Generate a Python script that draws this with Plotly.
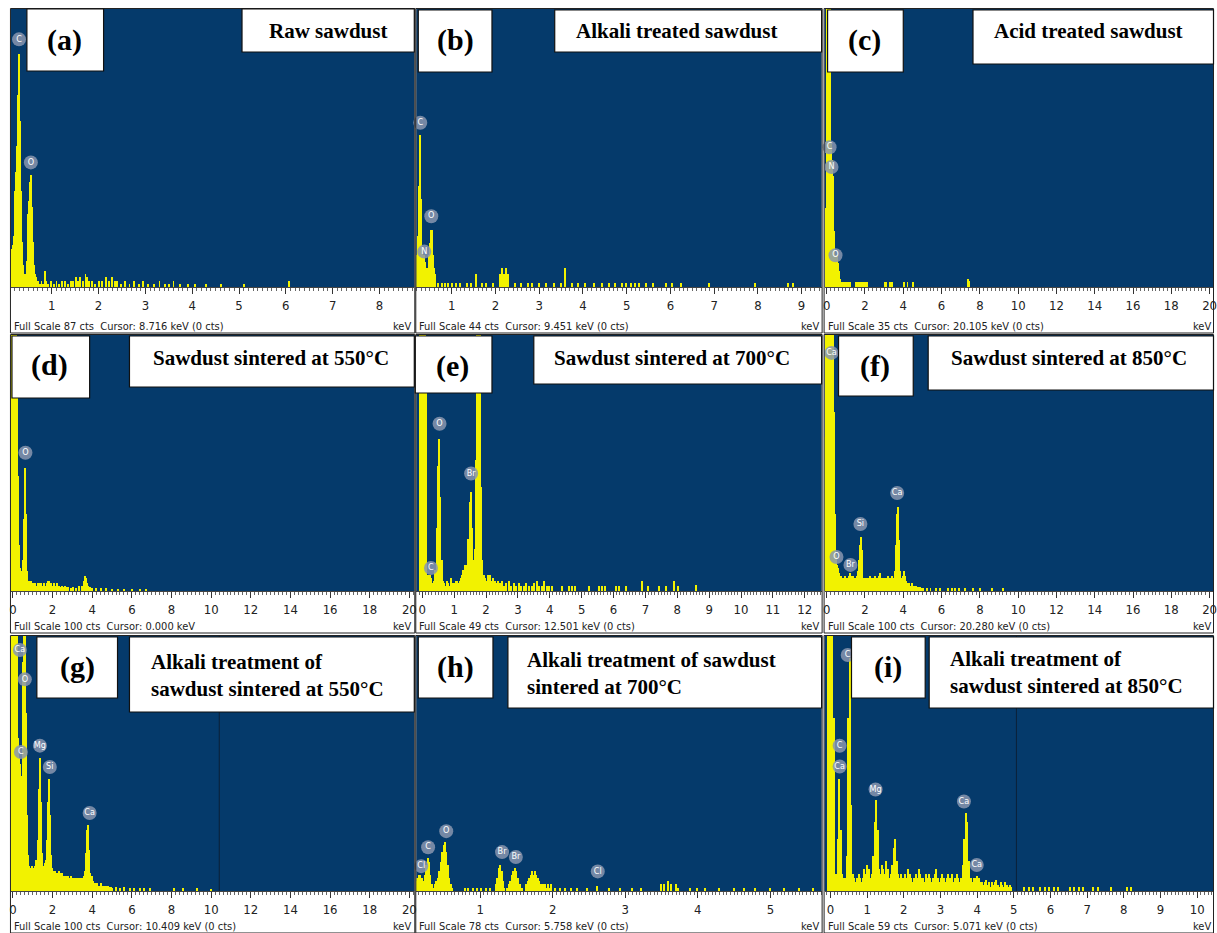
import plotly.graph_objects as go

# ---------------- data ----------------
# Each spectrum: contiguous segments (start keV, counts per bin) + sparse bins
BIN_A = 0.02
SEG_A = [(0.14, [12, 13, 11, 16, 30, 36, 44, 60, 73, 52, 30, 14, 7, 4, 3, 4, 8, 16, 23, 27,
                 33, 35, 25, 14, 7, 4, 3, 2, 2])]
NE_A = [0.74, 0.78, 0.82, 0.86, 0.88, 0.92, 0.98, 1.04, 1.10, 1.16, 1.22, 1.28, 1.34, 1.40, 1.46,
        1.52, 1.56, 1.60, 1.66, 1.72, 1.76, 1.80, 1.86, 1.92, 2.00, 2.08, 2.16, 2.22, 2.28, 2.34,
        2.40, 2.48, 2.56, 2.66, 2.76, 2.86, 2.94, 3.06, 3.18, 3.30, 3.42, 3.50, 3.60, 3.74, 3.90,
        4.06, 4.30, 4.62, 5.10, 6.06]
NC_A = [1, 2, 1, 5, 2, 1, 2, 1, 2, 1, 2, 2, 1, 2, 2, 3, 2, 3, 2, 4, 3, 2, 2, 1,
        2, 2, 3, 2, 3, 2, 2, 1, 2, 1, 2, 1, 2, 1, 1, 2, 1, 1, 2, 1, 1, 1, 1, 1, 1, 2]
LAB_A = (["C", "O"], [0.30, 0.553], [77.5, 39.0])

BIN_B = 0.025
SEG_B = [(0.200, [5, 8, 16, 24, 14, 6, 4, 5, 4, 2, 3, 5, 7, 9, 9, 5, 3, 2])]
NE_B = [0.70, 0.78, 0.85, 0.92, 1.00, 1.10, 1.20, 1.35, 1.45, 1.57, 1.70, 1.80, 1.95, 2.10, 2.15,
        2.20, 2.25, 2.30, 2.45, 2.60, 2.75, 2.85, 3.00, 3.15, 3.35, 3.50, 3.60, 3.75, 3.90, 4.05,
        4.25, 4.45, 4.60, 4.75, 4.90, 5.00, 5.10, 5.20, 5.30, 5.45, 5.60, 5.90, 6.05, 6.25, 6.90,
        7.95, 8.70, 8.80]
NC_B = [0.7, 0.7, 0.7, 0.7, 0.7, 0.7, 0.7, 0.7, 0.7, 2, 0.7, 0.7, 0.7, 2, 3,
        2, 3, 2, 0.7, 0.7, 0.7, 0.7, 0.7, 0.7, 0.7, 0.7, 3, 0.7, 0.7, 0.7,
        0.7, 0.7, 0.7, 0.7, 0.7, 0.7, 0.7, 0.7, 0.7, 0.7, 0.7, 0.7, 0.7, 0.7, 0.7,
        0.7, 0.7, 0.7]
LAB_B = (["C", "N", "O"], [0.278, 0.37, 0.53], [26.0, 5.6, 11.2])

BIN_C = 0.05
SEG_C = [(-0.05, [10, 40, 45, 45, 45, 18, 16, 14, 7, 4, 3, 4, 3, 2, 1])]
NE_C = [0.80, 0.90, 1.00, 1.10, 1.20, 1.50, 1.60, 1.70, 1.80, 1.90, 2.00, 2.10, 3.00, 3.10, 3.30,
        3.40, 4.00, 4.20, 4.50, 7.35, 7.40]
NC_C = [0.6, 0.6, 0.6, 0.6, 0.6, 0.6, 0.6, 0.6, 0.6, 0.6, 0.6, 0.6, 0.6, 0.6, 0.6,
        0.6, 0.6, 0.6, 0.6, 1.0, 0.8]
LAB_C = (["C", "N", "O"], [0.15, 0.25, 0.46], [17.6, 15.1, 4.0])

BIN_D = 0.05
SEG_D = [(-0.10, [60, 120, 120, 120, 120, 120, 90, 45, 18, 9, 6, 8, 12, 28, 48, 30, 8, 4]),
         (0.80, [4, 3, 4, 3, 3, 2, 3, 2, 2, 3, 3, 2, 3, 2, 2, 3, 2, 2, 3, 4,
                 4, 3, 3, 2, 2, 3, 2, 2, 3, 2, 2, 1, 1.5, 2, 1.5, 1, 2])]
NE_D = [2.70, 2.80, 2.95, 3.05, 3.20, 3.35, 3.50, 3.60, 3.65, 3.70, 3.75, 3.80, 3.90, 4.00, 4.20,
        4.45, 4.70, 5.00, 5.30, 5.60, 6.00, 6.40, 6.70]
NC_D = [1.5, 1.5, 1, 1.5, 1, 2, 2, 4, 6, 5, 3, 2, 1.5, 1, 1, 1, 1, 0.7, 0.7, 0.7, 0.7, 0.7, 0.7]
LAB_D = (["O"], [0.63], [54.0])

BIN_E = 0.04
SEG_E = [(-0.06, [60, 60, 60, 60, 60, 40, 3, 2, 3, 2.5, 1.5, 2, 4, 12, 24, 29, 18, 6, 2, 1.5]),
         (0.74, [1, 2, 1.5, 1, 2.5, 1.5, 1, 1.5, 2, 2, 1.5, 2, 2.5, 3, 4, 5, 4, 5, 10, 17,
                 19, 12, 6, 8, 25, 55, 60, 55, 20, 6, 3, 2.5, 2, 3, 2.5, 3, 2, 2.5, 1.5, 2, 1.5])]
NE_E = [2.40, 2.46, 2.52, 2.58, 2.64, 2.72, 2.80, 2.88, 2.96, 3.04, 3.12, 3.20, 3.28, 3.36, 3.44,
        3.52, 3.60, 3.68, 3.76, 3.84, 3.92, 4.00, 4.08, 4.40, 4.60, 4.70, 4.80, 5.25, 5.55, 5.65,
        5.75, 6.10, 6.20, 6.40, 6.90, 7.10, 7.45, 7.65, 7.90, 8.05, 8.60]
NC_E = [2, 1.5, 2, 1, 1.5, 2, 1, 1.5, 1, 1.5, 1, 1, 1.5, 1, 1, 1.5, 2, 1, 1, 2,
        1, 1, 1, 1, 1, 1, 1, 1, 1, 1, 1, 1, 1, 1, 2, 1, 1, 1, 2, 1, 1.2]
LAB_E = (["C", "O", "Br"], [0.27, 0.54, 1.53], [4.4, 32.0, 22.5])

BIN_F = 0.05
SEG_F = [(-0.10, [60, 120, 120, 120, 120, 120, 115, 110, 108, 70, 30, 14, 10, 9, 7,
                  6, 5, 6, 5, 4, 5, 6, 5, 4, 5, 6, 7, 6, 5, 6, 5, 4, 5, 6, 8, 12, 18, 21, 16, 8, 5, 4,
                  5, 4, 5, 4, 5, 6, 4, 5, 4, 5, 6, 5, 4, 5, 6, 7, 4, 5, 4, 5, 5, 4, 5, 4, 6, 5, 4, 5, 6, 5, 4,
                  8, 18, 30, 33, 20, 8, 5,
                  4, 6, 8, 6, 4,
                  3, 3, 2, 3, 2, 2, 3, 2, 2, 1.5, 2, 1.5, 1.5, 1, 1.5, 1, 1, 1])]
NE_F = [5.20, 5.40, 5.70, 5.90, 6.30, 6.50, 6.70, 6.90, 7.20, 7.60, 8.00, 8.60, 9.20]
NC_F = [1, 1, 1, 1, 1, 1, 1, 1, 1, 1, 1, 1, 1]
LAB_F = (["Ca", "O", "Br", "Si", "Ca"], [0.25, 0.51, 1.24, 1.76, 3.68], [93.0, 13.3, 10.2, 26.2, 38.3])

BIN_G = 0.05
SEG_G = [(-0.10, [40, 120, 120, 120, 120, 120, 100, 60, 52, 50, 40, 45, 90, 120, 120, 70, 30, 14, 10,
                  9, 8, 10, 9, 8, 10, 12, 10,
                  20, 40, 52, 35, 15,
                  10, 9, 11, 12,
                  20, 35, 44, 30, 14, 9,
                  8, 7, 8, 7, 7, 6, 8, 7, 6, 7, 6, 6, 5, 6, 5, 6, 6, 5, 5, 6, 5, 4, 5, 5, 4, 5, 4, 5,
                  5, 4, 5, 5, 6,
                  8, 15, 24, 26, 16, 7, 5, 6, 4,
                  3, 3, 2, 3, 2, 2, 2, 3, 2, 2, 1.5, 2, 2, 1.5, 2, 1.5, 1, 1.5, 1])]
NE_G = [5.20, 5.40, 5.60, 5.90, 6.10, 6.40, 6.60, 6.90, 8.10, 8.60, 9.30, 10.00]
NC_G = [1.5, 1, 1.5, 1, 1, 1, 1, 1, 1, 1, 1, 0.7]
LAB_G = (["Ca", "O", "C", "Mg", "Si", "Ca"], [0.35, 0.60, 0.40, 1.36, 1.86, 3.87],
         [94.5, 83.0, 54.5, 57.0, 48.6, 30.6])

BIN_H = 0.02
SEG_H = [(0.12, [3, 4, 5, 5, 4, 3, 5, 8, 10, 9, 5, 2, 1, 2, 3, 4, 6, 9, 12, 14, 15, 12, 8, 4, 2, 1]),
         (1.22, [2, 4, 7, 8, 6, 3, 1]),
         (1.38, [1, 2, 3, 5, 6, 7, 6, 4, 2, 2, 1]),
         (1.64, [2, 3, 4, 5, 6, 5, 6, 5, 4, 3, 2, 2, 2, 2, 1, 2, 1, 2])]
NE_H = [0.80, 0.84, 0.90, 0.96, 1.02, 1.08, 1.14, 2.04, 2.10, 2.18, 2.26, 2.34, 2.48, 2.62, 2.78,
        2.94, 3.10, 3.22, 3.50, 3.54, 3.60, 3.64, 3.70, 3.74, 3.90, 4.00, 4.10, 4.30, 4.50, 4.65,
        4.80, 5.00, 5.20, 5.40, 5.60]
NC_H = [1, 1, 1, 1, 1, 1, 1, 1, 1, 1, 1, 1, 1, 1.5, 1, 1, 1, 1, 2, 2, 3, 2, 2, 1, 1,
        1, 1, 1, 1, 1, 1, 1, 1, 1, 1]
LAB_H = (["Cl", "C", "O", "Br", "Br", "Cl"], [0.185, 0.28, 0.53, 1.30, 1.49, 2.62],
         [7.6, 13.4, 18.3, 11.9, 10.4, 6.0])

BIN_I = 0.04
SEG_I = [(-0.08, [70, 70, 70, 70, 40, 4, 4, 12, 26, 14, 4, 3, 3, 8, 40, 54, 20, 4]),
         (0.64, [3, 2, 3, 4, 3, 2, 3, 5, 4, 6, 5, 3, 4]),
         (1.16, [8, 16, 21, 14, 5]),
         (1.36, [4, 6, 5, 4, 7, 5, 3, 4]),
         (1.68, [6, 10, 12, 7, 4]),
         (1.88, [3, 4, 3, 2, 4, 3, 5, 4, 3, 2, 3, 4, 3, 5, 4, 3, 3, 2, 4, 3,
                 4, 3, 2, 3, 4, 5, 3, 2, 3, 4, 3, 2, 3, 4, 3, 3, 4, 2, 3, 4, 3, 2, 3]),
         (3.60, [6, 12, 18, 16, 7, 3, 3, 2, 3, 3, 3.5, 3]),
         (4.08, [2, 2, 1.5, 2, 2.5, 1.5, 2, 1, 2, 1.5, 2, 2.5, 1.5, 1, 2, 1.5, 1, 2, 1.5, 1, 1.5, 1])]
NE_I = [5.28, 5.40, 5.52, 5.72, 5.84, 5.96, 6.08, 6.20, 6.52, 6.64, 6.76, 6.88, 7.16, 7.30, 7.64,
        8.08, 8.20]
NC_I = [1] * 17
LAB_I = (["C", "C", "Ca", "Mg", "Ca", "Ca"], [0.47, 0.25, 0.25, 1.23, 3.64, 3.99],
         [54.6, 33.6, 28.8, 23.5, 20.7, 6.0])

TAGS = ["(a)", "(b)", "(c)", "(d)", "(e)", "(f)", "(g)", "(h)", "(i)"]
TITLES = ["Raw sawdust", "Alkali treated sawdust", "Acid treated sawdust",
          "Sawdust sintered at 550°C", "Sawdust sintered at 700°C", "Sawdust sintered at 850°C",
          "Alkali treatment of<br>sawdust sintered at 550°C",
          "Alkali treatment of sawdust<br>sintered at 700°C",
          "Alkali treatment of<br>sawdust sintered at 850°C"]
FULL_SCALE = [87, 44, 35, 100, 49, 100, 100, 78, 59]
FOOTERS = ["Full Scale 87 cts  Cursor: 8.716 keV (0 cts)",
           "Full Scale 44 cts  Cursor: 9.451 keV (0 cts)",
           "Full Scale 35 cts  Cursor: 20.105 keV (0 cts)",
           "Full Scale 100 cts  Cursor: 0.000 keV",
           "Full Scale 49 cts  Cursor: 12.501 keV (0 cts)",
           "Full Scale 100 cts  Cursor: 20.280 keV (0 cts)",
           "Full Scale 100 cts  Cursor: 10.409 keV (0 cts)",
           "Full Scale 78 cts  Cursor: 5.758 keV (0 cts)",
           "Full Scale 59 cts  Cursor: 5.071 keV (0 cts)"]
CURSOR_LINES = {7: 10.409, 9: 5.071}
XRANGES = [[0.128, 8.745], [0.187, 9.458], [-0.11, 20.23],
           [-0.10, 20.25], [-0.19, 12.53], [-0.11, 20.23],
           [-0.10, 20.25], [0.117, 5.707], [-0.16, 10.46]]
XTICKS = [list(range(1, 9)), list(range(1, 10)), list(range(0, 21, 2)),
          list(range(0, 21, 2)), list(range(0, 13)), list(range(0, 21, 2)),
          list(range(0, 21, 2)), list(range(0, 6)), list(range(0, 11))]
MINOR = [0.1, 0.1, 0.2, 0.2, 0.1, 0.2, 0.2, 0.05, 0.1]

SPECTRA = [(BIN_A, SEG_A, NE_A, NC_A, LAB_A), (BIN_B, SEG_B, NE_B, NC_B, LAB_B),
           (BIN_C, SEG_C, NE_C, NC_C, LAB_C), (BIN_D, SEG_D, NE_D, NC_D, LAB_D),
           (BIN_E, SEG_E, NE_E, NC_E, LAB_E), (BIN_F, SEG_F, NE_F, NC_F, LAB_F),
           (BIN_G, SEG_G, NE_G, NC_G, LAB_G), (BIN_H, SEG_H, NE_H, NC_H, LAB_H),
           (BIN_I, SEG_I, NE_I, NC_I, LAB_I)]

# ---------------- layout geometry (pixels) ----------------
W, H = 1217, 933
COLS = [(9, 414), (416, 823), (826, 1217)]
ROWS = [(9, 287, 333), (335, 591, 633), (636, 891, 933)]  # top, plot bottom, strip bottom
TAG_BOX = [(25, 102, 9, 71), (418, 492, 10, 72), (829, 905, 10, 72),
           (10, 88, 336, 398), (415, 492, 336, 393), (840, 915, 336, 396),
           (35, 116, 637, 698), (418, 493, 637, 698), (853, 927, 637, 698)]
TAG_POS = [(63, 40), (455, 40), (866, 40), (48, 365), (452, 366), (877, 366),
           (76, 667), (455, 667), (890, 667)]
TITLE_BOX = [(241, 414, 9, 52), (555, 823, 10, 52), (975, 1217, 10, 64),
             (128, 414, 336, 387), (534, 823, 336, 384), (930, 1217, 336, 390),
             (128, 414, 637, 712), (508, 823, 637, 708), (931, 1217, 637, 708)]
TITLE_POS = [(327, 31, "center"), (677, 31, "center"), (1091, 31, "center"),
             (270, 358, "center"), (673, 358, "center"), (1071, 358, "center"),
             (148, 675, "left"), (525, 673, "left"), (950, 672, "left")]

BLUE = "#053a6b"
YELLOW = "#f2f200"
NARROW = "Liberation Sans Narrow, Arial Narrow, DejaVu Sans Condensed, sans-serif"
SERIF = "Liberation Serif, Times New Roman, serif"


def fx(p):
    return p / W


def fy(p):
    return 1 - p / H


fig = go.Figure()
shapes, annots = [], []
layout = {}

for i in range(9):
    n = i + 1
    xa = "x" if n == 1 else f"x{n}"
    ya = "y" if n == 1 else f"y{n}"
    bw, segs, ne, nc, lab = SPECTRA[i]
    xs, ys = [], []
    for start, counts in segs:
        for k, c in enumerate(counts):
            xs.append(round(start + k * bw, 4))
            ys.append(c)
    xs += ne
    ys += nc
    fig.add_trace(go.Bar(x=xs, y=ys, width=bw, marker=dict(color=YELLOW, line=dict(width=0)),
                         xaxis=xa, yaxis=ya, showlegend=False, hoverinfo="skip"))
    names, le, lc = lab
    fig.add_trace(go.Scatter(x=le, y=lc, mode="markers+text", text=names,
                             textposition="middle center",
                             marker=dict(size=14, color="rgba(138,150,175,0.85)",
                                         line=dict(width=0)),
                             textfont=dict(color="white", size=9, family=NARROW),
                             xaxis=xa, yaxis=ya, showlegend=False, hoverinfo="skip",
                             cliponaxis=False))

    c0, c1 = COLS[i % 3]
    t, b, sb = ROWS[i // 3]
    xk = "xaxis" if n == 1 else f"xaxis{n}"
    yk = "yaxis" if n == 1 else f"yaxis{n}"
    layout[xk] = dict(domain=[fx(c0), fx(c1)], range=XRANGES[i], anchor=ya,
                      tickmode="array", tickvals=XTICKS[i], ticks="outside", ticklen=6,
                      tickwidth=1, tickcolor="#333", ticklabeloverflow="allow",
                      tickfont=dict(family=NARROW, size=13, color="#222"),
                      showgrid=False, zeroline=False, showline=True, linecolor="#444",
                      linewidth=1, fixedrange=True,
                      minor=dict(ticks="outside", ticklen=3, tickcolor="#666",
                                 tickmode="linear", tick0=0, dtick=MINOR[i], showgrid=False))
    layout[yk] = dict(domain=[fy(b), fy(t)], range=[0, FULL_SCALE[i]], anchor=xa,
                      visible=False, fixedrange=True)

    # cursor line
    if n in CURSOR_LINES:
        shapes.append(dict(type="line", xref=xa, yref=f"{ya} domain",
                           x0=CURSOR_LINES[n], x1=CURSOR_LINES[n], y0=0, y1=1,
                           line=dict(color="#0b2038", width=1), layer="below"))

    # cell frame
    shapes.append(dict(type="rect", xref="paper", yref="paper",
                       x0=fx(c0 - 0.5), x1=fx(min(c1 + 0.5, W - 0.5)),
                       y0=fy(sb), y1=fy(t - 0.5),
                       line=dict(color="#222", width=1), fillcolor="rgba(0,0,0,0)",
                       layer="above"))

    # tag box and title box
    for (bx0, bx1, by0, by1) in (TAG_BOX[i], TITLE_BOX[i]):
        shapes.append(dict(type="rect", xref="paper", yref="paper",
                           x0=fx(bx0), x1=fx(min(bx1, W - 0.5)), y0=fy(by1), y1=fy(by0),
                           line=dict(color="#111", width=1.2), fillcolor="white",
                           layer="above"))
    tx, ty = TAG_POS[i]
    annots.append(dict(xref="paper", yref="paper", x=fx(tx), y=fy(ty), showarrow=False,
                       text=f"<b>{TAGS[i]}</b>", xanchor="center", yanchor="middle",
                       font=dict(family=SERIF, size=30, color="black")))
    px_, py_, al = TITLE_POS[i]
    annots.append(dict(xref="paper", yref="paper", x=fx(px_), y=fy(py_), showarrow=False,
                       text=f"<b>{TITLES[i]}</b>",
                       xanchor="left" if al == "left" else "center", yanchor="middle",
                       align=al, font=dict(family=SERIF, size=21, color="black")))

    # footer
    annots.append(dict(xref="paper", yref="paper", x=fx(c0 + 1), y=fy(sb - 7),
                       showarrow=False, text=FOOTERS[i], xanchor="left", yanchor="middle",
                       font=dict(family=NARROW, size=11, color="#222")))
    annots.append(dict(xref="paper", yref="paper", x=fx(c1 - 1), y=fy(sb - 7),
                       showarrow=False, text="keV", xanchor="right", yanchor="middle",
                       font=dict(family=NARROW, size=11, color="#222")))

fig.update_layout(width=W, height=H, margin=dict(l=0, r=0, t=0, b=0),
                  paper_bgcolor="white", plot_bgcolor=BLUE, bargap=0, barmode="overlay",
                  shapes=shapes, annotations=annots, showlegend=False, **layout)

fig.write_html("out.html")
